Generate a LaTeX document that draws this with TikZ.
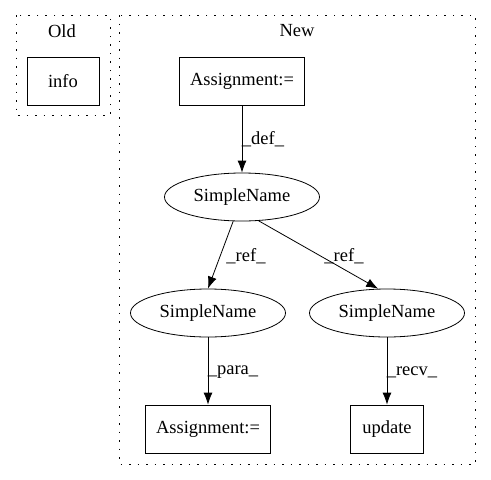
\documentclass[tikz,border=0pt]{standalone}
\usepackage{fontspec}
\setmainfont{Liberation Serif}
\usetikzlibrary{shapes.geometric,arrows.meta}

\tikzset{
  box/.style={draw, thick, rectangle, minimum height=48pt, inner sep=0pt, font=\fontsize{18.5pt}{21pt}\selectfont},
  oval/.style={draw, thick, ellipse, minimum width=155pt, minimum height=48pt, inner sep=0pt, font=\fontsize{18.5pt}{21pt}\selectfont},
  cluster/.style={draw, thick, dash pattern=on 1.5pt off 7pt},
  edgelbl/.style={font=\fontsize{18.5pt}{21pt}\selectfont, inner sep=0pt},
  flow/.style={thick, -{Latex[length=12pt,width=9pt]}}
}

\begin{document}
\begin{tikzpicture}[x=1pt,y=-1pt]

    % --- Frame ---
    \useasboundingbox (0,0) rectangle (491,480);

    % --- Clusters ---
    \draw[cluster] (16,15) rectangle (110,115);
    \draw[cluster] (119,15) rectangle (475,464);
    \node[edgelbl] (oldlbl) at (62,31) {Old};
    \node[edgelbl] (newlbl) at (297,31) {New};

    % --- Nodes ---
    \node[box, minimum width=72pt] (info) at (63,81) {info};
    \node[box, minimum width=125pt] (asgtop) at (242,81) {Assignment:=};
    \node[oval] (sname) at (242,197) {SimpleName};
    \node[oval] (snleft) at (208,313) {SimpleName};
    \node[oval] (snright) at (387,313) {SimpleName};
    \node[box, minimum width=125pt] (asgbot) at (208,429) {Assignment:=};
    \node[box, minimum width=73pt] (update) at (387,429) {update};

    % --- Edges ---
    \draw[flow] (asgtop) -- (sname);
    \draw[flow] (sname.250) -- (snleft.north);
    \draw[flow] (sname.-55) -- (snright.110);
    \draw[flow] (snleft) -- (asgbot);
    \draw[flow] (snright) -- (update);

    % --- Edge labels ---
    \node[edgelbl] (ldef) at (263,139) {\_def\_};
    \node[edgelbl] (lrefl) at (246,256) {\_ref\_};
    \node[edgelbl] (lrefr) at (344,256) {\_ref\_};
    \node[edgelbl] (lpara) at (233,372) {\_para\_};
    \node[edgelbl] (lrecv) at (412,372) {\_recv\_};

\end{tikzpicture}
\end{document}
